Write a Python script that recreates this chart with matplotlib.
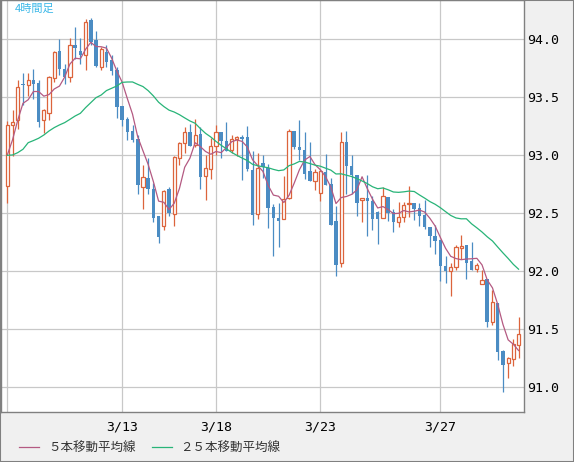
import matplotlib
matplotlib.use("Agg")
from matplotlib import pyplot as plt
from matplotlib.lines import Line2D
import numpy as np
import pandas as pd

# 4-hour candles
opens = [92.73, 93.26, 93.30, 93.61, 93.60, 93.65, 93.62, 93.30, 93.36, 93.66,
         93.90, 93.74, 93.67, 93.95, 93.90, 93.86, 94.16, 93.99, 93.76, 93.89,
         93.82, 93.73, 93.42, 93.31, 93.21, 93.14, 92.72, 92.80, 92.71, 92.47,
         92.385, 92.71, 92.49, 92.97, 93.10, 93.20, 93.09, 93.18, 92.82, 92.88,
         93.08, 93.20, 93.12, 93.04, 93.14, 93.155, 93.155, 92.87, 92.49, 92.93,
         92.89, 92.55, 92.46, 92.45, 92.625, 93.21, 93.07, 93.04, 92.86, 92.775,
         92.67, 92.85, 92.75, 92.43, 92.07, 93.11, 92.905, 92.83, 92.61, 92.625,
         92.60, 92.51, 92.46, 92.64, 92.51, 92.42, 92.465, 92.575, 92.59, 92.54,
         92.48, 92.38, 92.30, 92.27, 92.04, 92.00, 92.03, 92.20, 92.22, 92.09,
         92.02, 91.89, 91.93, 91.56, 91.72, 91.31, 91.21, 91.24, 91.36]
highs = [93.29, 93.39, 93.65, 93.71, 93.71, 93.74, 93.65, 93.40, 93.68, 93.90,
         94.00, 93.78, 94.01, 94.10, 94.01, 94.17, 94.18, 94.07, 93.93, 93.95,
         93.86, 93.76, 93.42, 93.33, 93.26, 93.17, 92.91, 92.97, 92.76, 92.47,
         92.70, 92.72, 92.99, 93.11, 93.24, 93.27, 93.31, 93.24, 93.00, 93.15,
         93.26, 93.20, 93.28, 93.17, 93.16, 93.175, 93.25, 93.03, 93.02, 93.00,
         92.92, 92.58, 92.59, 92.82, 93.22, 93.21, 93.30, 93.20, 93.11, 92.88,
         92.88, 93.01, 92.80, 92.56, 93.20, 93.21, 93.00, 92.83, 92.63, 92.83,
         92.65, 92.52, 92.72, 92.64, 92.535, 92.595, 92.595, 92.73, 92.59, 92.59,
         92.61, 92.38, 92.40, 92.27, 92.13, 92.07, 92.22, 92.31, 92.22, 92.25,
         92.07, 92.01, 91.93, 91.84, 91.72, 91.32, 91.26, 91.41, 91.60]
lows = [92.59, 92.99, 93.22, 93.43, 93.51, 93.48, 93.24, 93.19, 93.30, 93.63,
        93.69, 93.61, 93.63, 93.83, 93.78, 93.73, 93.95, 93.76, 93.73, 93.76,
        93.69, 93.32, 93.25, 93.13, 93.11, 92.66, 92.53, 92.66, 92.42, 92.24,
        92.35, 92.47, 92.39, 92.91, 93.02, 93.08, 93.07, 92.71, 92.61, 92.79,
        93.00, 92.97, 93.03, 93.02, 92.99, 92.78, 92.86, 92.40, 92.45, 92.80,
        92.37, 92.13, 92.21, 92.45, 92.62, 93.05, 92.96, 92.79, 92.775, 92.70,
        92.60, 92.74, 92.40, 91.96, 92.035, 92.66, 92.66, 92.47, 92.42, 92.30,
        92.35, 92.23, 92.46, 92.43, 92.34, 92.38, 92.42, 92.465, 92.44, 92.39,
        92.36, 92.21, 92.15, 91.91, 91.90, 91.78, 92.01, 92.10, 91.93, 92.01,
        91.99, 91.89, 91.52, 91.53, 91.23, 90.96, 91.08, 91.18, 91.25]
closes = [93.26, 93.28, 93.59, 93.60, 93.65, 93.615, 93.28, 93.39, 93.67, 93.89,
          93.74, 93.67, 93.95, 93.92, 93.865, 94.15, 93.97, 93.77, 93.91, 93.805,
          93.72, 93.41, 93.30, 93.20, 93.13, 92.74, 92.81, 92.71, 92.46, 92.29,
          92.69, 92.50, 92.98, 93.10, 93.20, 93.08, 93.17, 92.81, 92.89, 93.08,
          93.20, 93.12, 93.03, 93.14, 93.155, 93.14, 92.88, 92.48, 92.89, 92.90,
          92.54, 92.46, 92.43, 92.62, 93.21, 93.07, 93.04, 92.84, 92.775, 92.85,
          92.86, 92.74, 92.40, 92.055, 93.11, 92.905, 92.83, 92.59, 92.625, 92.60,
          92.45, 92.45, 92.65, 92.50, 92.42, 92.465, 92.57, 92.59, 92.53, 92.47,
          92.38, 92.30, 92.26, 92.04, 92.00, 92.03, 92.205, 92.21, 92.07, 92.01,
          92.05, 91.92, 91.56, 91.73, 91.30, 91.19, 91.25, 91.37, 91.46]

# moving average values at the start, where earlier bars are off the chart
ma5_head = [93.00, 93.13, 93.30, 93.445]
ma25_head = [92.997, 93.00, 93.02, 93.049, 93.106, 93.124, 93.144, 93.172,
             93.207, 93.236, 93.259, 93.279, 93.307, 93.336, 93.359, 93.408,
             93.451, 93.494, 93.517, 93.555, 93.575, 93.595, 93.626, 93.629]

tick_bars = [0, 22, 40, 60, 83]
tick_labels = ["", "3/13", "3/18", "3/23", "3/27"]
price_ticks = [91.0, 91.5, 92.0, 92.5, 93.0, 93.5, 94.0]

UP_COLOR = "#dc643c"
DOWN_COLOR = "#4b8cc3"
MA5_COLOR = "#b45a82"
MA25_COLOR = "#28b478"

df = pd.DataFrame({"Open": opens, "High": highs, "Low": lows, "Close": closes})
ma5 = df["Close"].rolling(5).mean().values
ma5[:len(ma5_head)] = ma5_head
ma25 = df["Close"].rolling(25).mean().values
ma25[:len(ma25_head)] = ma25_head

x = np.arange(len(df))
up = (df["Close"] >= df["Open"]).values

fig = plt.figure(figsize=(5.74, 4.62), dpi=100, facecolor="#f0f0f0")
ax = fig.add_axes([1 / 574, 50 / 462, 523 / 574, 412 / 462])
ax.set_facecolor("white")

ax.set_xlim(-1.21, 99.04)
ax.set_ylim(90.784, 94.336)

ax.set_xticks(tick_bars)
ax.set_xticklabels(tick_labels)
ax.set_yticks(price_ticks)
ax.set_yticklabels(["%.1f" % p for p in price_ticks])
ax.yaxis.tick_right()
ax.tick_params(axis="both", length=0, labelsize=9.5, colors="black")
ax.tick_params(axis="y", pad=2)
ax.tick_params(axis="x", pad=6)
for lab in ax.get_xticklabels() + ax.get_yticklabels():
    lab.set_family("DejaVu Sans Mono")
ax.grid(True, color="#c8c8c8", linewidth=0.9, zorder=0)
ax.set_axisbelow(True)
for side in ax.spines:
    ax.spines[side].set_color("#808080")
    ax.spines[side].set_linewidth(1.0)

# wicks
ax.vlines(x[up], df["Low"][up], df["High"][up], color=UP_COLOR, linewidth=0.9, zorder=2)
ax.vlines(x[~up], df["Low"][~up], df["High"][~up], color=DOWN_COLOR, linewidth=0.9, zorder=2)

# bodies (min height so dojis still show)
body_low = np.minimum(df["Open"], df["Close"]).values
body_h = np.maximum(np.abs(df["Close"] - df["Open"]).values, 0.012)
ax.bar(x[up], body_h[up], bottom=body_low[up], width=0.62, facecolor="white",
       edgecolor=UP_COLOR, linewidth=0.9, zorder=3)
ax.bar(x[~up], body_h[~up], bottom=body_low[~up], width=0.68, color=DOWN_COLOR,
       linewidth=0, zorder=3)

l5, = ax.plot(x, ma5, color=MA5_COLOR, linewidth=0.9, zorder=4, label="５本移動平均線")
l25, = ax.plot(x, ma25, color=MA25_COLOR, linewidth=0.9, zorder=4, label="２５本移動平均線")

ax.text(14 / 523, 1 - 4 / 412, "4時間足", transform=ax.transAxes, color="#3cb8e8",
        fontsize=8, va="top", ha="left", family=["Noto Sans CJK JP", "DejaVu Sans"])

fig.legend(handles=[l5, l25], loc="center left", bbox_to_anchor=(8 / 574, 1 - 448 / 462),
           ncol=2, frameon=False, handlelength=1.6, handletextpad=0.7, columnspacing=1.3,
           prop={"family": ["Noto Sans CJK JP", "DejaVu Sans"], "size": 9}, labelcolor="#333333")

# thin frame around the whole picture
fig.patches.append(plt.Rectangle((0, 0), 1, 1, transform=fig.transFigure, fill=False,
                                 edgecolor="#808080", linewidth=1.5, zorder=10))

fig.savefig("out.png", dpi=100, facecolor=fig.get_facecolor())
